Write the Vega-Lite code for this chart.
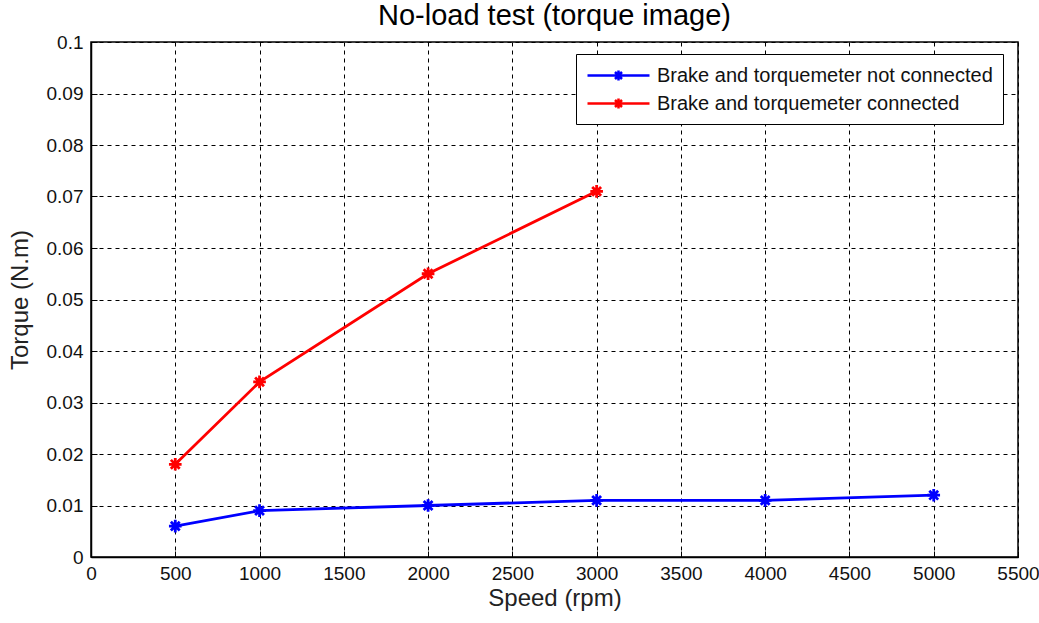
{
  "$schema": "https://vega.github.io/schema/vega-lite/v6.json",
  "autosize": "none",
  "width": 927,
  "height": 515,
  "padding": {"left": 91, "top": 42, "right": 21, "bottom": 66},
  "background": "white",
  "title": {"text": "No-load test (torque image)", "font": "Liberation Sans", "fontSize": 29, "fontWeight": "normal", "color": "black", "offset": 2},
  "config": {
    "view": {"stroke": "black", "strokeWidth": 1.5},
    "axis": {
      "labelFont": "Liberation Sans", "labelFontSize": 19, "labelColor": "#111",
      "titleFont": "Liberation Sans", "titleFontSize": 24, "titleFontWeight": "normal", "titleColor": "#222",
      "gridColor": "black", "gridDash": [4, 4], "gridWidth": 1, "gridOpacity": 1,
      "domainColor": "black", "domainWidth": 1.5, "tickColor": "black", "tickSize": -6, "tickWidth": 1
    }
  },
  "data": {"values": [
    {"speed": 500, "torque": 0.006, "series": "Brake and torquemeter not connected"},
    {"speed": 1000, "torque": 0.009, "series": "Brake and torquemeter not connected"},
    {"speed": 2000, "torque": 0.010, "series": "Brake and torquemeter not connected"},
    {"speed": 3000, "torque": 0.011, "series": "Brake and torquemeter not connected"},
    {"speed": 4000, "torque": 0.011, "series": "Brake and torquemeter not connected"},
    {"speed": 5000, "torque": 0.012, "series": "Brake and torquemeter not connected"},
    {"speed": 500, "torque": 0.018, "series": "Brake and torquemeter connected"},
    {"speed": 1000, "torque": 0.034, "series": "Brake and torquemeter connected"},
    {"speed": 2000, "torque": 0.055, "series": "Brake and torquemeter connected"},
    {"speed": 3000, "torque": 0.071, "series": "Brake and torquemeter connected"}
  ]},
  "encoding": {
    "x": {"field": "speed", "type": "quantitative", "title": "Speed (rpm)",
      "scale": {"domain": [0, 5500], "nice": false},
      "axis": {"values": [0,500,1000,1500,2000,2500,3000,3500,4000,4500,5000,5500], "format": "d", "labelPadding": 13, "titlePadding": 3, "labelFlush": false}},
    "y": {"field": "torque", "type": "quantitative", "title": "Torque (N.m)",
      "scale": {"domain": [0, 0.1], "nice": false},
      "axis": {"values": [0,0.01,0.02,0.03,0.04,0.05,0.06,0.07,0.08,0.09,0.1], "format": ".2~f", "labelPadding": 14, "titlePadding": 14, "labelFlush": false}},
    "color": {"field": "series", "type": "nominal",
      "scale": {"domain": ["Brake and torquemeter not connected", "Brake and torquemeter connected"], "range": ["#0000ff", "#ff0000"]},
      "legend": {"title": null, "orient": "none", "legendX": 485, "legendY": 12,
        "fillColor": "white", "strokeColor": "black", "padding": 10,
        "labelFont": "Liberation Sans", "labelFontSize": 20, "labelColor": "#111", "labelLimit": 500,
        "symbolType": "M-1,0L5.2,0M2.1,-0.5L2.1,0.5M1.75,-0.35L2.45,0.35M1.75,0.35L2.45,-0.35",
        "symbolSize": 400, "symbolStrokeWidth": 2.5, "symbolFillColor": "transparent", "rowPadding": 6, "labelOffset": 48}}
  },
  "layer": [
    {"mark": {"type": "line", "strokeWidth": 2.8}},
    {"mark": {"type": "point", "shape": "M-1,0L1,0M0,-1L0,1M-0.7,-0.7L0.7,0.7M-0.7,0.7L0.7,-0.7", "filled": false, "size": 160, "strokeWidth": 2.8, "opacity": 1}}
  ]
}
